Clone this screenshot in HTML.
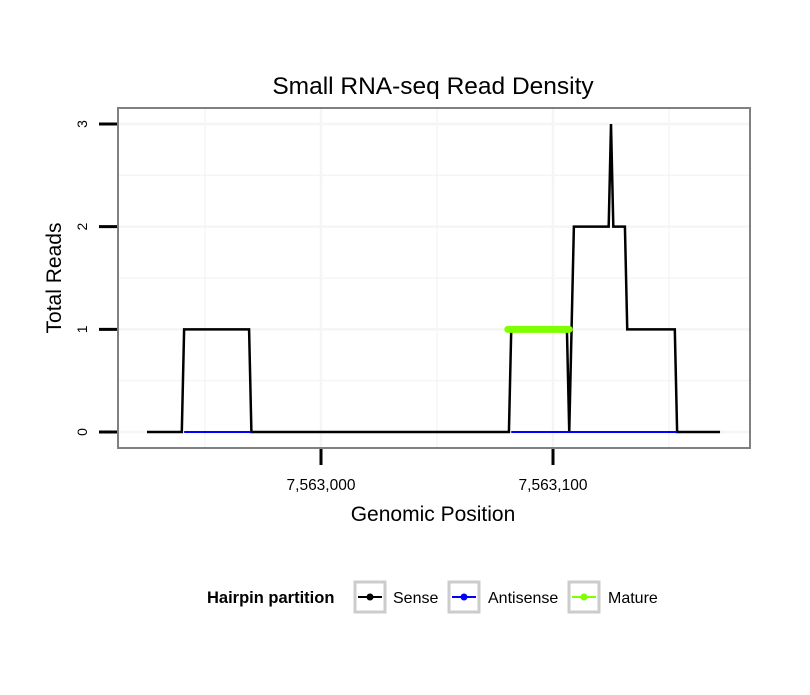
<!DOCTYPE html>
<html><head><meta charset="utf-8"><style>
body{margin:0;background:#fff;}
svg text{font-family:"Liberation Sans",sans-serif;}
</style></head><body>
<svg width="810" height="690">
<g id="plot"></g>
</svg>
<script>
// Data (genomic position offsets from 7,563,000, read counts)
const sensePos = [-75,-60,-59,-31,-30,81,82,106,107,109,124,125,126,131,132,152.5,153.5,172];
const senseVal = [0,0,1,1,0,0,1,1,0,2,2,3,2,2,1,1,0,0];
const antiPos = [-59,-30,82,153.5];
const antiVal = [0,0,0,0];
const maturePos = [80.5,107];
const matureVal = [1,1];
const xTicks = [0,100];
const xTickLabels = ["7,563,000","7,563,100"];
const yTicks = [0,1,2,3];

const NS="http://www.w3.org/2000/svg";
const g=document.getElementById('plot');
const L=118,R=750,T=108,B=448;
const xs=v=>321+(v)*2.32;
const ys=v=>432-v*102.67;
function el(t,a,p){const e=document.createElementNS(NS,t);for(const k in a)e.setAttribute(k,a[k]);(p||g).appendChild(e);return e;}

let bg=el('rect',{x:L,y:T,width:R-L,height:B-T,fill:'#fff'});


for(let v=-50;v<=150;v+=50){const gl=el('line',{x1:xs(v),x2:xs(v),y1:T,y2:B,stroke:'#f5f5f5','stroke-width':v%100===0?2.5:1.5});

}
for(let v=0;v<=3.01;v+=0.5){const gl=el('line',{x1:L,x2:R,y1:ys(v),y2:ys(v),stroke:'#f5f5f5','stroke-width':v%1===0?2.5:1.5});

}

function series(pos,val,color,w,name,cap){
  const d=pos.map((p,i)=>(i?'L':'M')+xs(p)+','+ys(val[i])).join('');
  const p=el('path',{d:d,fill:'none',stroke:color,'stroke-width':w,'stroke-linejoin':'miter','stroke-linecap':cap||'butt'});
  
  
}
series(sensePos,senseVal,'#000',2.5,'sense-line');
series(antiPos.slice(0,2),antiVal.slice(0,2),'#00f',2,'antisense-line-1');
series(antiPos.slice(2),antiVal.slice(2),'#00f',2,'antisense-line-2');
series(maturePos,matureVal,'#7fff00',7,'mature-line','round');

let fr=el('rect',{x:L,y:T,width:R-L,height:B-T,fill:'none',stroke:'#808080','stroke-width':2});



xTicks.forEach((v,i)=>{
  const t=el('line',{x1:xs(v),x2:xs(v),y1:449,y2:465,stroke:'#000','stroke-width':3});
  
  
  const tx=el('text',{x:xs(v),y:490,'text-anchor':'middle','font-size':15.5});
  tx.textContent=xTickLabels[i];
  
  
});
yTicks.forEach(v=>{
  const t=el('line',{x1:99,x2:117,y1:ys(v),y2:ys(v),stroke:'#000','stroke-width':3});
  
  
  const tx=el('text',{x:0,y:0,'text-anchor':'middle','font-size':14,transform:`translate(87,${ys(v)}) rotate(-90)`});
  tx.textContent=v;
  
  
});
</script>
<svg style="position:absolute;left:0;top:0" width="810" height="690">
<text x="433" y="94" text-anchor="middle" font-size="24.5">Small RNA-seq Read Density</text>
<text x="433" y="521" text-anchor="middle" font-size="21">Genomic Position</text>
<text transform="translate(61,278) rotate(-90)" text-anchor="middle" font-size="21">Total Reads</text>
<g font-size="16">
<text x="207" y="603" font-weight="bold" font-size="16.5">Hairpin partition</text>
<g>
<rect x="355" y="582" width="30" height="30" fill="#fff" stroke="#ccc" stroke-width="3"/>
<line x1="358" x2="382" y1="597" y2="597" stroke="#000" stroke-width="2"/><circle cx="370" cy="597" r="3.5" fill="#000"/>
<text x="393" y="603">Sense</text></g>
<g>
<rect x="449" y="582" width="30" height="30" fill="#fff" stroke="#ccc" stroke-width="3"/>
<line x1="452" x2="476" y1="597" y2="597" stroke="#00f" stroke-width="2"/><circle cx="464" cy="597" r="3.5" fill="#00f"/>
<text x="488" y="603">Antisense</text></g>
<g>
<rect x="569" y="582" width="30" height="30" fill="#fff" stroke="#ccc" stroke-width="3"/>
<line x1="572" x2="596" y1="597" y2="597" stroke="#7fff00" stroke-width="2"/><circle cx="584" cy="597" r="3.5" fill="#7fff00"/>
<text x="608" y="603">Mature</text></g>
</g>
</svg>
</body></html>
